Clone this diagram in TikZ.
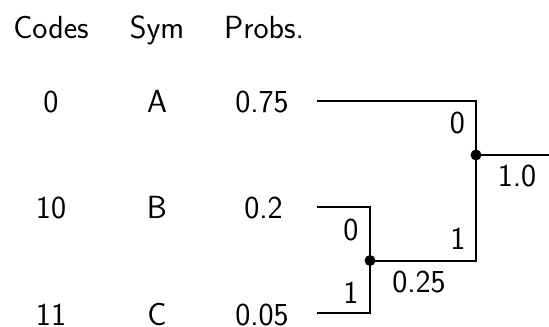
\documentclass[tikz,border=0pt]{standalone}
\begin{document}
\begin{tikzpicture}[x=0.5pt,y=-0.5pt,
  every node/.style={font=\sffamily\fontsize{16}{19}\selectfont, inner sep=0pt},
  txt/.style={anchor=base},
  wire/.style={line width=1pt},
  dotp/.style={circle, fill=black, minimum size=5.5pt, inner sep=0pt}]
\useasboundingbox (0,0) rectangle (549,326);
% headers
\node[txt] (hc) at (51,39) {Codes};
\node[txt] (hs) at (157,39) {Sym};
\node[txt] (hp) at (264,39) {Probs.};
% rows
\node[txt] (ca) at (51,112.5) {0};
\node[txt] (sa) at (157,112.5) {A};
\node[txt] (pa) at (262,112.5) {0.75};
\node[txt] (cb) at (51,218.5) {10};
\node[txt] (sb) at (157,218.5) {B};
\node[txt] (pb) at (263.5,218.5) {0.2};
\node[txt] (cc) at (51,325) {11};
\node[txt] (sc) at (157,325) {C};
\node[txt] (pc) at (262,325) {0.05};
% tree coordinates
\coordinate (sA) at (317,101);
\coordinate (kA) at (476,101);
\coordinate (sB) at (317,207);
\coordinate (kB) at (370,207);
\coordinate (sC) at (317,313);
\coordinate (kC) at (370,313);
\coordinate (kR) at (476,260.5);
\coordinate (out) at (549,155);
\node[dotp] (root) at (476,155) {};
\node[dotp] (n1) at (370,260.5) {};
% wires
\draw[wire] (sA) -- (kA) -- (kR) -- (n1.center);
\draw[wire] (root.center) -- (out);
\draw[wire] (sB) -- (kB) -- (kC) -- (sC);
% labels
\node (l0a) at (457.5,123) {0};
\node (l1a) at (458,239) {1};
\node (lr) at (517,176) {1.0};
\node (l0b) at (351,230) {0};
\node (l1b) at (351,293) {1};
\node (ln1) at (419,282) {0.25};
\end{tikzpicture}
\end{document}
